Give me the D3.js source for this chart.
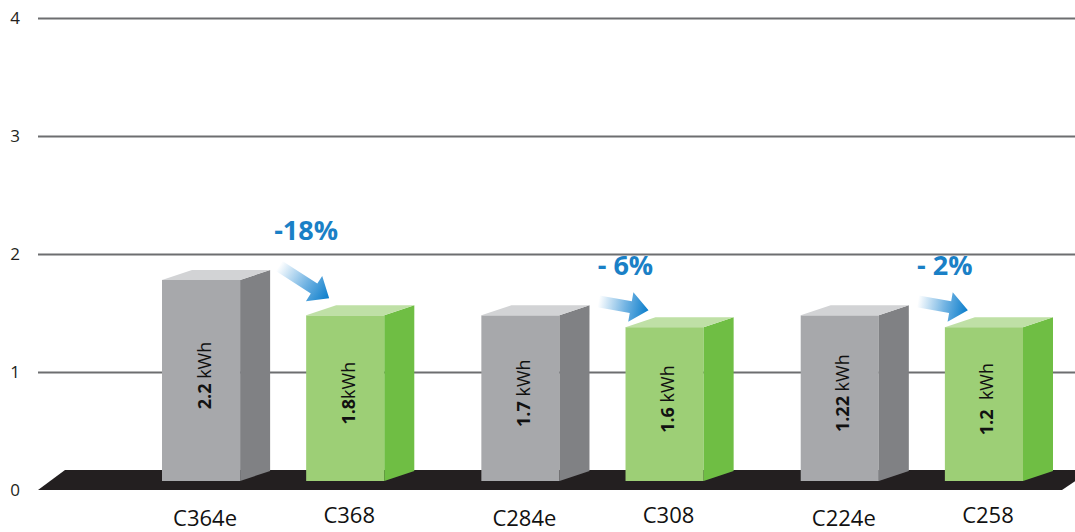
<!DOCTYPE html>
<html>
<head>
<meta charset="utf-8">
<script src="https://cdn.jsdelivr.net/npm/d3@7"></script>
<style>
  body { margin: 0; background: #fff; }
  svg text { font-family: "Open Sans", "DejaVu Sans", sans-serif; }
</style>
</head>
<body>
<div id="chart"></div>
<script>
// chart data
const categories = ["C364e", "C368", "C284e", "C308", "C224e", "C258"];
const groups = ["A", "B", "C"];
const values = [1.78, 1.48, 1.48, 1.38, 1.48, 1.38];
const barLabels = ["2.2 kWh", "1.8kWh", "1.7 kWh", "1.6 kWh", "1.22 kWh", "1.2  kWh"];
const savings = ["-18%", "- 6%", "- 2%"];
const yTicks = [0, 1, 2, 3, 4];

const W = 1075, H = 532;
const depth = 30, rise = 10; // 3d offset of the bars

const svg = d3.select("#chart").append("svg")
    .attr("width", W)
    .attr("height", H);

const y = d3.scaleLinear().domain([0, 4]).range([490, 18]);

const xGroup = d3.scaleBand()
    .domain(groups)
    .range([162, 1053])
    .paddingInner(0.21)
    .paddingOuter(0);

const xInner = d3.scaleBand()
    .domain([0, 1])
    .range([0, xGroup.bandwidth()])
    .paddingInner(0.25)
    .paddingOuter(0);

const frontW = xInner.bandwidth() - depth;

const bars = categories.map((c, i) => ({
    name: c,
    value: values[i],
    label: barLabels[i],
    kind: i % 2,
    x: xGroup(groups[Math.floor(i / 2)]) + xInner(i % 2)
}));

const colors = [
    { front: "#a7a8ab", side: "#808184", top: "#d2d3d5" },
    { front: "#9dcf76", side: "#6fbe44", top: "#bfe0a6" }
];

// gridlines + y labels
const axis = svg.append("g")
    .attr("transform", "translate(38,0)")
    .call(d3.axisLeft(y).tickValues(yTicks).tickSize(-(W - 38)).tickPadding(18).tickFormat(d3.format("d")))
    .attr("font-size", 17)
    .attr("font-family", null);
axis.select(".domain").remove();
axis.selectAll(".tick line")
    .attr("stroke", "#6d6e70")
    .attr("stroke-width", 2)
    .attr("display", d => d === 0 ? "none" : null);
axis.selectAll(".tick text")
    .attr("fill", "#231f20");

// black floor
const y0 = y(0);
svg.append("path")
    .attr("d", `M38,${y0} L65,${y0 - 20} L1092,${y0 - 20} L1062,${y0} Z`)
    .attr("fill", "#231f20");

const baseY = y0 - 9;

const barG = svg.selectAll(".bar")
    .data(bars)
    .enter().append("g")
    .attr("class", "bar");

barG.append("rect")
    .attr("x", d => d.x)
    .attr("y", d => y(d.value))
    .attr("width", frontW)
    .attr("height", d => baseY - y(d.value))
    .attr("fill", d => colors[d.kind].front);

barG.append("path")
    .attr("d", d => {
        const x1 = d.x + frontW, t = y(d.value);
        return `M${x1},${t} L${x1 + depth},${t - rise} L${x1 + depth},${baseY - rise} L${x1},${baseY} Z`;
    })
    .attr("fill", d => colors[d.kind].side);

barG.append("path")
    .attr("d", d => {
        const x1 = d.x + frontW, t = y(d.value);
        return `M${d.x},${t} L${d.x + depth},${t - rise} L${x1 + depth},${t - rise} L${x1},${t} Z`;
    })
    .attr("fill", d => colors[d.kind].top);

// rotated value labels
barG.append("text")
    .attr("transform", d => `translate(${d.x + frontW / 2 + 3},${(y(d.value) + baseY) / 2 - 5}) rotate(-90)`)
    .attr("text-anchor", "middle")
    .attr("dy", "0.36em")
    .attr("fill", "#111")
    .style("font-size", "18px")
    .style("white-space", "pre")
    .each(function(d) {
        const idx = d.label.indexOf("k");
        const t = d3.select(this);
        t.append("tspan").attr("font-weight", "bold").text(d.label.slice(0, idx));
        t.append("tspan").text(d.label.slice(idx));
    });

// category labels
svg.selectAll(".cat")
    .data(bars)
    .enter().append("text")
    .attr("class", "cat")
    .attr("x", d => d.x + frontW / 2 + 4)
    .attr("y", d => d.kind === 0 ? 526 : 523)
    .attr("text-anchor", "middle")
    .attr("fill", "#111")
    .style("font-size", "22px")
    .text(d => d.name);

// arrows
const defs = svg.append("defs");
const grad = defs.append("linearGradient")
    .attr("id", "arrowGrad")
    .attr("x1", 0).attr("x2", 1).attr("y1", 0).attr("y2", 0);
grad.append("stop").attr("offset", 0).attr("stop-color", "#ffffff");
grad.append("stop").attr("offset", 0.55).attr("stop-color", "#6fb2e2");
grad.append("stop").attr("offset", 1).attr("stop-color", "#0a7dcb");

const arrows = groups.map((g, i) => {
    const a = bars[i * 2], b = bars[i * 2 + 1];
    const tail = [a.x + frontW + depth + 9, y(a.value) - 14];
    const tip = [b.x + 23, y(b.value) - 17];
    return { tail, tip, text: savings[i] };
});

const arrowG = svg.selectAll(".arrow")
    .data(arrows)
    .enter().append("g")
    .attr("class", "arrow");

arrowG.append("path")
    .attr("transform", d => {
        const ang = Math.atan2(d.tip[1] - d.tail[1], d.tip[0] - d.tail[0]) * 180 / Math.PI;
        return `translate(${d.tail[0]},${d.tail[1]}) rotate(${ang})`;
    })
    .attr("d", d => {
        const L = Math.hypot(d.tip[0] - d.tail[0], d.tip[1] - d.tail[1]);
        const hl = 18, sw = 6, hw = 15;
        return `M0,${-sw} L${L - hl},${-sw} L${L - hl},${-hw} L${L},0 L${L - hl},${hw} L${L - hl},${sw} L0,${sw} Z`;
    })
    .attr("fill", "url(#arrowGrad)");

arrowG.append("text")
    .attr("x", d => d.tail[0] + 27)
    .attr("y", d => d.tail[1] - 26)
    .attr("text-anchor", "middle")
    .attr("fill", "#1a80c6")
    .attr("font-weight", "bold")
    .style("font-size", "27px")
    .style("white-space", "pre")
    .text(d => d.text);
</script>
</body>
</html>
